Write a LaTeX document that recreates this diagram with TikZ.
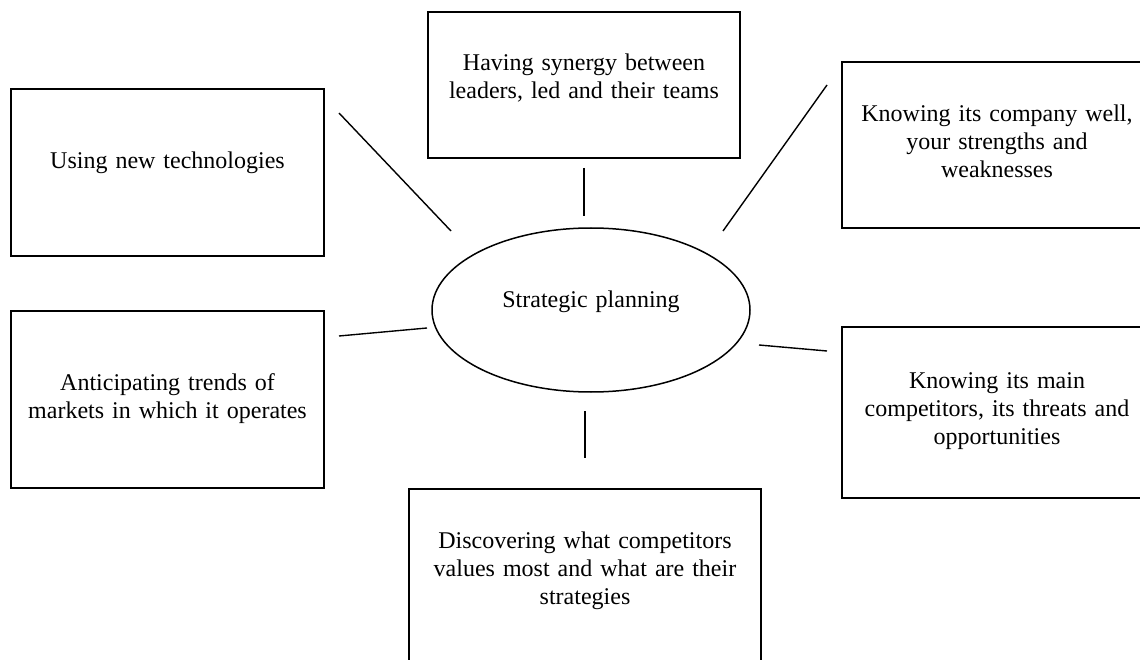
\documentclass[tikz,border=0pt]{standalone}
\usepackage{fontspec}
\setmainfont{Liberation Serif}
\usetikzlibrary{shapes.geometric}
\tikzset{
  box/.style={draw, rectangle, line width=1.6pt, inner sep=0pt},
  oval/.style={draw, ellipse, line width=1.5pt, inner sep=0pt, minimum width=318pt, minimum height=164pt},
  txt/.style={inner sep=0pt, text width=340pt, align=center, anchor=base, font=\fontsize{24}{28}\selectfont},
  link/.style={line width=1.4pt}
}
\begin{document}
\begin{tikzpicture}[x=1pt,y=-1pt]
\useasboundingbox (0,0) rectangle (1140,660);
\clip (0,0) rectangle (1140,660);
\fill[white] (0,0) rectangle (1140,660);

% boxes
\node[box, minimum width=313pt, minimum height=167pt] (tl) at (167.5,172.5) {};
\node[box, minimum width=312pt, minimum height=146pt] (top) at (584,85) {};
\node[box, minimum width=310pt, minimum height=166pt] (tr) at (997,145) {};
\node[box, minimum width=313pt, minimum height=177pt] (lm) at (167.5,399.5) {};
\node[box, minimum width=310pt, minimum height=171pt] (rm) at (997,412.5) {};
\node[box, minimum width=352pt, minimum height=211pt] (bot) at (585,594.5) {};
\node[oval] (ell) at (591,310) {};

% texts
\node[txt] (tlt) at (167.5,169) {Using new technologies};
\node[txt] (topt) at (584,71) {Having synergy between\\leaders, led and their teams};
\node[txt] (trt) at (997,122) {Knowing its company well,\\your strengths and\\weaknesses};
\node[txt] (lmt) at (167.5,390) {Anticipating trends of\\markets in which it operates};
\node[txt] (rmt) at (997,388) {Knowing its main\\competitors, its threats and\\opportunities};
\node[txt] (bott) at (585,548) {Discovering what competitors\\values most and what are their\\strategies};
\node[txt] (ellt) at (591,308) {Strategic planning};

% connector end points
\coordinate (a1) at (339,113); \coordinate (a2) at (451,231);
\coordinate (b1) at (584,168); \coordinate (b2) at (584,216);
\coordinate (c1) at (827,85);  \coordinate (c2) at (723,231);
\coordinate (d1) at (339,336); \coordinate (d2) at (427,328);
\coordinate (e1) at (759,345); \coordinate (e2) at (827,351);
\coordinate (f1) at (585,411); \coordinate (f2) at (585,458);

\draw[link] (a1) -- (a2);
\draw[link] (b1) -- (b2);
\draw[link] (c1) -- (c2);
\draw[link] (d1) -- (d2);
\draw[link] (e1) -- (e2);
\draw[link] (f1) -- (f2);
\end{tikzpicture}
\end{document}
